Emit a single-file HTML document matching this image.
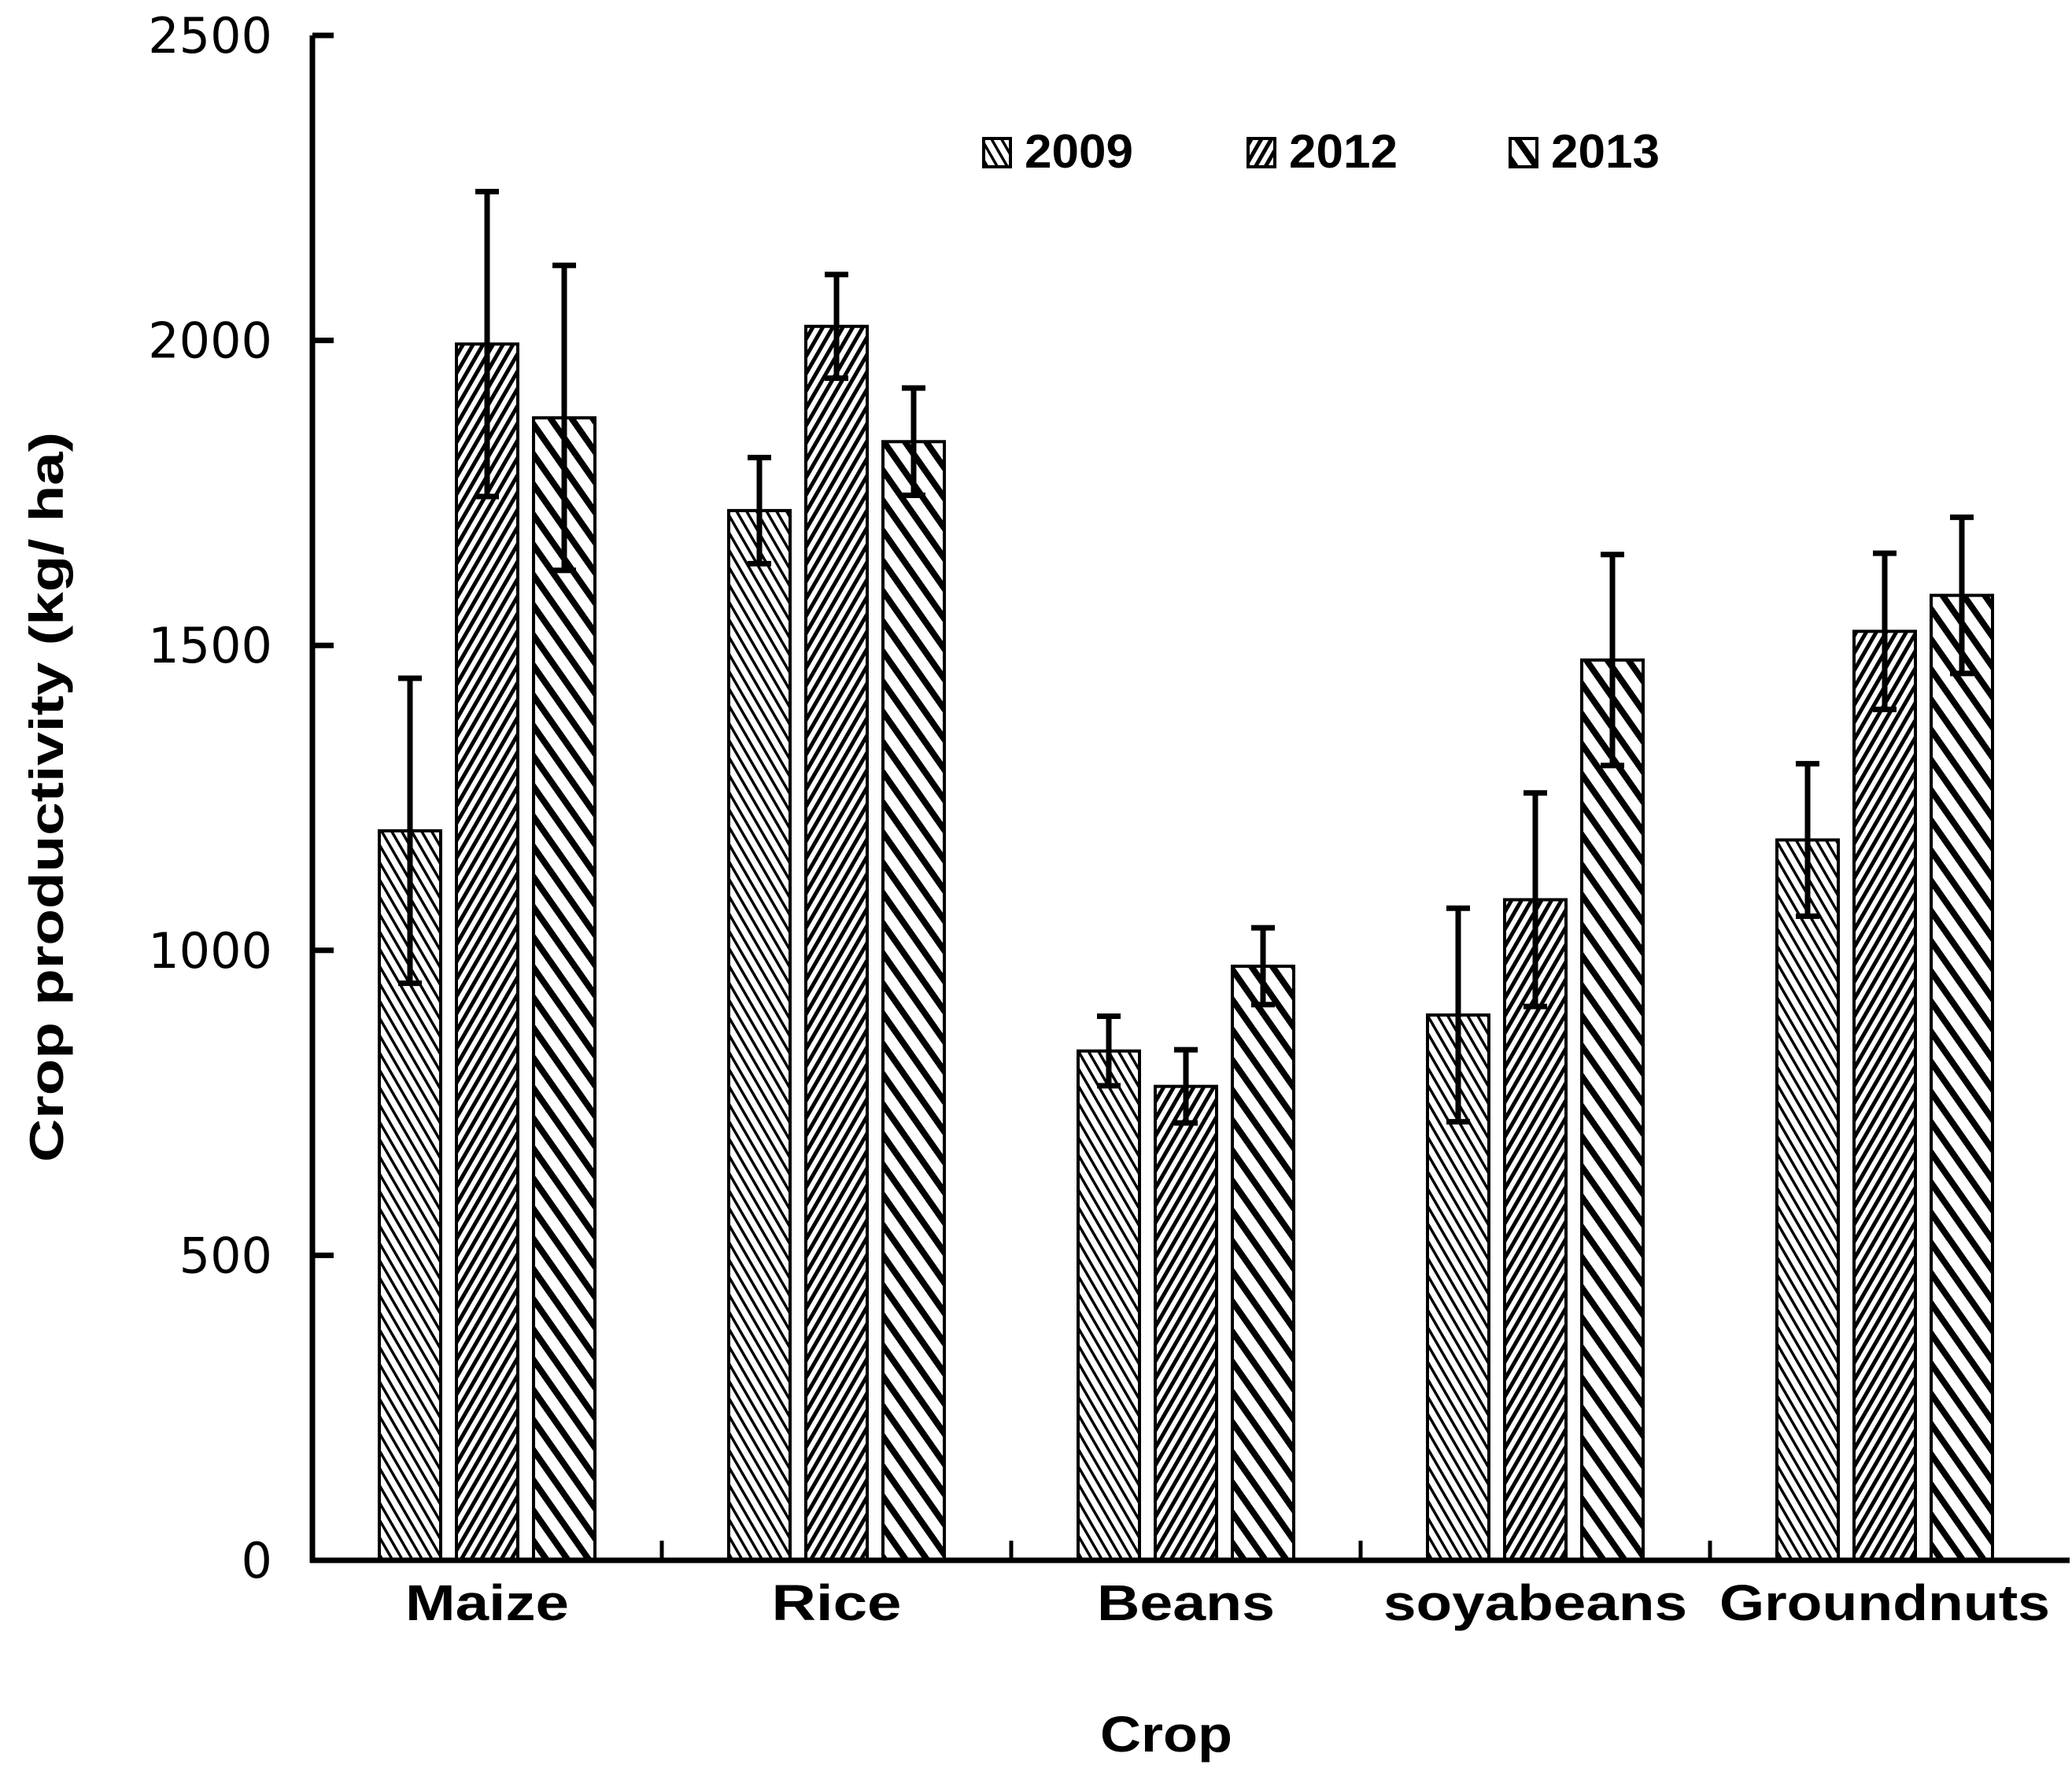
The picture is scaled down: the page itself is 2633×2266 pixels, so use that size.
<!DOCTYPE html>
<html><head><meta charset="utf-8"><style>
html,body{margin:0;padding:0;background:#fff;}
svg{display:block;}
</style></head><body>
<svg id="chart" width="2633" height="2266" viewBox="0 0 2633 2266" xmlns="http://www.w3.org/2000/svg">
<defs>
<pattern id="p2009" patternUnits="userSpaceOnUse" width="11" height="11" patternTransform="rotate(-30)">
<rect width="11" height="11" fill="#fff"/><rect x="0" y="0" width="3.5" height="11" fill="#000"/>
</pattern>
<pattern id="p2012" patternUnits="userSpaceOnUse" width="11" height="11" patternTransform="rotate(30)">
<rect width="11" height="11" fill="#fff"/><rect x="0" y="0" width="5" height="11" fill="#000"/>
</pattern>
<pattern id="p2013" patternUnits="userSpaceOnUse" width="22" height="22" patternTransform="rotate(-35)">
<rect width="22" height="22" fill="#fff"/><rect x="0" y="0" width="8" height="22" fill="#000"/>
</pattern>
</defs>
<g id="plot"></g>
</svg>
<script>
const categories = ["Maize", "Rice", "Beans", "soyabeans", "Groundnuts"];
const seriesNames = ["2009", "2012", "2013"];
const values2009 = [1196, 1721, 835, 894, 1181];
const values2012 = [1994, 2023, 777, 1083, 1523];
const values2013 = [1873, 1834, 974, 1476, 1582];
const err2009 = [250, 87, 57, 175, 125];
const err2012 = [250, 85, 60, 175, 128];
const err2013 = [250, 88, 63, 173, 128];
const yTicks = [0, 500, 1000, 1500, 2000, 2500];

const NS = "http://www.w3.org/2000/svg";
const g = document.getElementById('plot');
const X0 = 397, X1 = 2630, Y0 = 1983, YTOP = 45, YMAX = 2500;
const catW = 444;
function yScale(v){ return Y0 - (v / YMAX) * (Y0 - YTOP); }
function xCenter(i){ return X0 + catW * (i + 0.5); }
function mk(tag, attrs, parent){
  const e = document.createElementNS(NS, tag);
  for (const k in attrs) e.setAttribute(k, attrs[k]);
  (parent || g).appendChild(e);
  return e;
}
const series = [values2009, values2012, values2013];
const errs = [err2009, err2012, err2013];
const fills = ["url(#p2009)", "url(#p2012)", "url(#p2013)"];
const barW = 78, step = 98;

series.forEach((vals, s) => {
  vals.forEach((v, i) => {
    const cx = xCenter(i) + (s - 1) * step;
    const r = mk('rect', {x: cx - barW/2, y: yScale(v), width: barW, height: Y0 - yScale(v), fill: fills[s], stroke: '#000', 'stroke-width': 4});
    
    
  });
});
series.forEach((vals, s) => {
  vals.forEach((v, i) => {
    const cx = xCenter(i) + (s - 1) * step;
    const top = yScale(v + errs[s][i]), bot = yScale(v - errs[s][i]);
    const eg = mk('g', {});
    
    
    mk('line', {x1: cx, x2: cx, y1: top, y2: bot, stroke: '#000', 'stroke-width': 7}, eg);
    mk('line', {x1: cx - 15, x2: cx + 15, y1: top, y2: top, stroke: '#000', 'stroke-width': 7}, eg);
    mk('line', {x1: cx - 15, x2: cx + 15, y1: bot, y2: bot, stroke: '#000', 'stroke-width': 7}, eg);
  });
});
const ya = mk('line', {x1: X0, x2: X0, y1: YTOP, y2: Y0 + 3, stroke: '#000', 'stroke-width': 7});


const xa = mk('line', {x1: X0 - 3, x2: X1, y1: Y0, y2: Y0, stroke: '#000', 'stroke-width': 7});


yTicks.forEach(t => {
  const y = yScale(t);
  const tk = mk('line', {x1: X0, x2: X0 + 27, y1: y, y2: y, stroke: '#000', 'stroke-width': 7});
  
  
  const tl = mk('text', {x: 346, y: y + 22, 'text-anchor': 'end', 'font-family': '"DejaVu Sans", sans-serif', 'font-size': 62, fill: '#000'});
  tl.textContent = String(t);
  
  
});
for (let i = 1; i < categories.length; i++) {
  const x = X0 + catW * i;
  const tk = mk('line', {x1: x, x2: x, y1: Y0, y2: Y0 - 25, stroke: '#000', 'stroke-width': 5});
  
  
}
const labelWidths = [208, 165, 226, 386, 420];
categories.forEach((c, i) => {
  const t = mk('text', {x: xCenter(i), y: 2059, 'text-anchor': 'middle', 'font-family': '"Liberation Sans", sans-serif', 'font-weight': 'bold', 'font-size': 64, fill: '#000', textLength: labelWidths[i], lengthAdjust: 'spacingAndGlyphs'});
  t.textContent = c;
  
  
});
const xt = mk('text', {x: 1482, y: 2226, 'text-anchor': 'middle', 'font-family': '"Liberation Sans", sans-serif', 'font-weight': 'bold', 'font-size': 64, fill: '#000', textLength: 168, lengthAdjust: 'spacingAndGlyphs'});
xt.textContent = 'Crop';


const yt = mk('text', {x: 0, y: 0, transform: 'translate(80,1013) rotate(-90)', 'text-anchor': 'middle', 'font-family': '"Liberation Sans", sans-serif', 'font-weight': 'bold', 'font-size': 60, fill: '#000', textLength: 928, lengthAdjust: 'spacingAndGlyphs'});
yt.textContent = 'Crop productivity (kg/ ha)';


const legX = [1250, 1586, 1919];
seriesNames.forEach((n, s) => {
  const lg = mk('g', {});
  
  
  mk('rect', {x: legX[s], y: 176, width: 34, height: 36, fill: fills[s], stroke: '#000', 'stroke-width': 4}, lg);
  const t = mk('text', {x: legX[s] + 52, y: 213, 'font-family': '"Liberation Sans", sans-serif', 'font-weight': 'bold', 'font-size': 60, fill: '#000', textLength: 138, lengthAdjust: 'spacingAndGlyphs'}, lg);
  t.textContent = n;
});
</script>
</body></html>
